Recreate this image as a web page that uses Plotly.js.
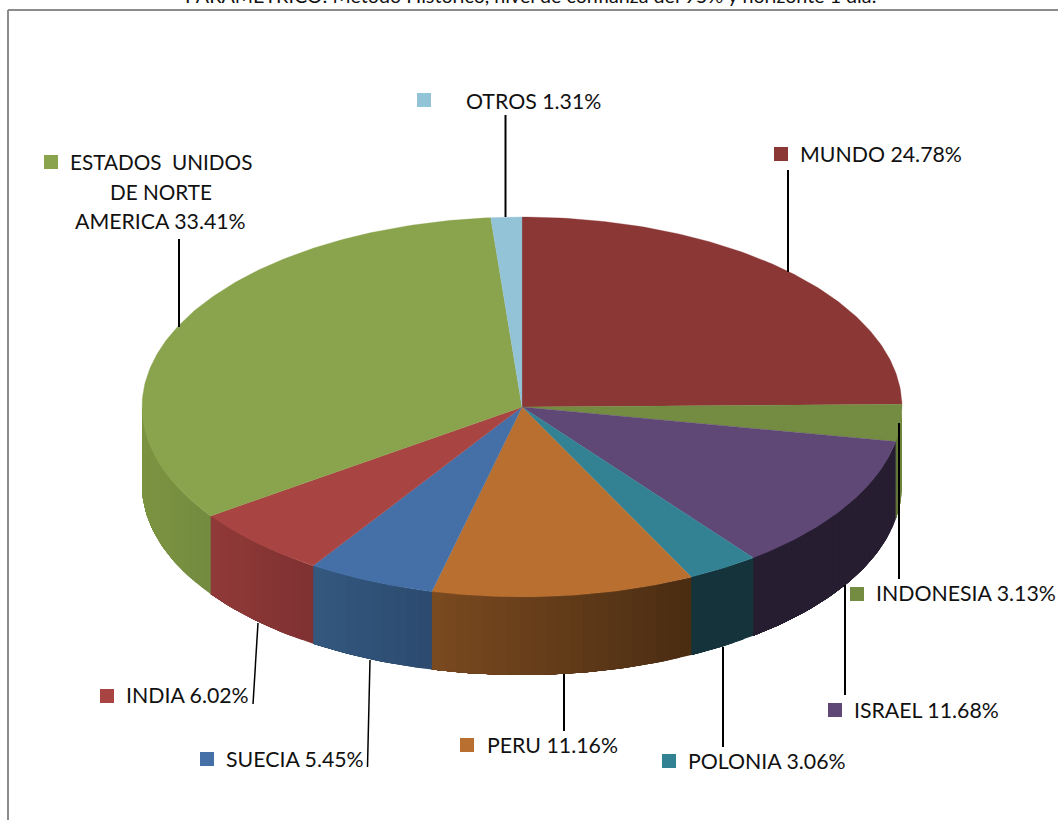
<!DOCTYPE html>
<html><head><meta charset="utf-8">
<script src="https://cdn.plot.ly/plotly-3.0.1.min.js"></script>
<style>html,body{margin:0;padding:0;background:#fff;overflow:hidden}#c{width:1058px;height:820px}</style>
</head><body><div id="c"></div>
<script>
// Data
const categories = ["MUNDO","INDONESIA","ISRAEL","POLONIA","PERU","SUECIA","INDIA","ESTADOS UNIDOS DE NORTE AMERICA","OTROS"];
const values = [24.78,3.13,11.68,3.06,11.16,5.45,6.02,33.41,1.31];
const topColors = ["#8b3736","#748c42","#5f4776","#338294","#b96f30","#4470a7","#a84442","#8aa44d","#93c3d6"];
const sideLeft  = ["#6a2a29","#5c7033","#261d31","#15333b","#7a4a20","#34587f","#903a38","#7c9441","#6e93a2"];
const sideRight = ["#6a2a29","#728a40","#261d31","#15333b","#4a2c12","#2c4a6e","#7f3131","#728b3f","#6e93a2"];
const titleText = "PARAMETRICO: Método Histórico, nivel de confianza del 95% y horizonte 1 día.";

// Layout geometry (pixels of the page-sized axes)
const cx = 522, cy = 407, rx = 380, ry = 190, depth = 78;
const FONT = "Lato, Carlito, Calibri, sans-serif";
const FS = 21.3;
const legendMarks = [[424,100,8],[781,154,0],[51,162,7],[857,594,1],[835,710,2],[669,761,3],[467,745,4],[207,759,5],[107,696,6]];
const labels = [
  ["OTROS 1.31%",466,101,FS],["MUNDO 24.78%",800,154,FS],
  ["ESTADOS\u00a0\u00a0UNIDOS",70,162,20.7],["DE NORTE",110,192,20.7],["AMERICA 33.41%",75,221,FS],
  ["INDONESIA 3.13%",876,593,FS],["ISRAEL 11.68%",854,710,FS],["POLONIA 3.06%",688,761,FS],
  ["PERU 11.16%",487,745,FS],["SUECIA 5.45%",226,759,FS],["INDIA 6.02%",126,695,FS]
];
const leaders = [
  [505.5,115,505.5,217,2],[788,170,788,272,2],[179,239,179,327,2],[899,423,899,579,2],
  [845,585,845,695,2],[723,647,723,747,2],[564,674,564,731,2],[370,660,367.5,767,1.5],[258,623,253,704,1.5]
];

function px(a){return cx+rx*Math.sin(a*Math.PI/180);}
function py(a,d){return cy-ry*Math.cos(a*Math.PI/180)+(d||0);}
function hex(c){return [1,3,5].map(i=>parseInt(c.substr(i,2),16));}
function mix(a,b,t){const A=hex(a),B=hex(b);return "rgb("+A.map((v,i)=>Math.round(v+(B[i]-v)*t)).join(",")+")";}

const total = values.reduce((s,v)=>s+v,0);
const sideTraces = [], topTraces = [];
let cum = 0;
values.forEach((v,i)=>{
  const a0 = cum/total*360, a1 = (cum+v)/total*360; cum += v;
  // side wall: only the front half of the ellipse is visible.
  // Each band runs from its own start to the slice's far end and the next band paints over it.
  const s0 = Math.max(a0,90), s1 = Math.min(a1,270);
  if (s1 > s0) {
    const n = Math.max(1,Math.ceil((s1-s0)/2));
    for (let k=0;k<n;k++){
      const b0 = s0+(s1-s0)*k/n, bMid = s0+(s1-s0)*(k+0.5)/n;
      const t = (px(bMid)-px(s1))/((px(s0)-px(s1))||1);
      const col = mix(sideLeft[i],sideRight[i],t);
      const m = Math.max(2,Math.ceil((s1-b0)/1));
      const xs=[],ys=[];
      for(let j=0;j<=m;j++){const a=b0+(s1-b0)*j/m;xs.push(px(a));ys.push(py(a,0));}
      for(let j=m;j>=0;j--){const a=b0+(s1-b0)*j/m;xs.push(px(a));ys.push(py(a,depth));}
      xs.push(xs[0]);ys.push(ys[0]);
      sideTraces.push({type:"scatter",mode:"lines",x:xs,y:ys,fill:"toself",fillcolor:col,
        line:{color:col,width:0},hoverinfo:"skip",showlegend:false});
    }
  }
  // top surface
  const xs=[cx],ys=[cy];
  const steps=Math.max(2,Math.ceil((a1-a0)/0.75));
  for(let j=0;j<=steps;j++){const a=a0+(a1-a0)*j/steps;xs.push(px(a));ys.push(py(a,0));}
  xs.push(cx);ys.push(cy);
  topTraces.push({type:"scatter",mode:"lines",x:xs,y:ys,fill:"toself",fillcolor:topColors[i],
    line:{color:topColors[i],width:0.3},name:categories[i],hoverinfo:"skip",showlegend:false});
});

const markerTrace = {type:"scatter",mode:"markers",
  x:legendMarks.map(m=>m[0]),y:legendMarks.map(m=>m[1]),
  marker:{symbol:"square",size:14,color:legendMarks.map(m=>topColors[m[2]]),line:{width:0}},
  hoverinfo:"skip",showlegend:false};

const annotations = labels.map(l=>({xref:"x",yref:"y",x:l[1],y:l[2],text:l[0],showarrow:false,
  xanchor:"left",yanchor:"middle",align:"left",font:{family:FONT,size:l[3],color:"#111"},borderpad:0,borderwidth:0}));
annotations.push({xref:"x",yref:"y",x:530,y:8,text:titleText,showarrow:false,xanchor:"center",yanchor:"bottom",
  font:{family:FONT,size:19.7,color:"#111"},borderpad:0});

const shapes = leaders.map(l=>({type:"line",xref:"x",yref:"y",x0:l[0],y0:l[1],x1:l[2],y1:l[3],
  line:{color:"#000",width:l[4]},layer:"above"}));
shapes.push({type:"line",xref:"x",yref:"y",x0:8,y0:10,x1:1058,y1:10,line:{color:"#8c8c8c",width:2},layer:"below"});
shapes.push({type:"line",xref:"x",yref:"y",x0:8,y0:10,x1:8,y1:820,line:{color:"#8c8c8c",width:2},layer:"below"});

Plotly.newPlot("c",[...sideTraces,...topTraces,markerTrace],{
  width:1058,height:820,margin:{l:0,r:0,t:0,b:0},
  paper_bgcolor:"#fff",plot_bgcolor:"#fff",showlegend:false,hovermode:false,
  xaxis:{range:[0,1058],visible:false,fixedrange:true},
  yaxis:{range:[820,0],visible:false,fixedrange:true},
  annotations,shapes
},{displayModeBar:false,staticPlot:true});
</script></body></html>
